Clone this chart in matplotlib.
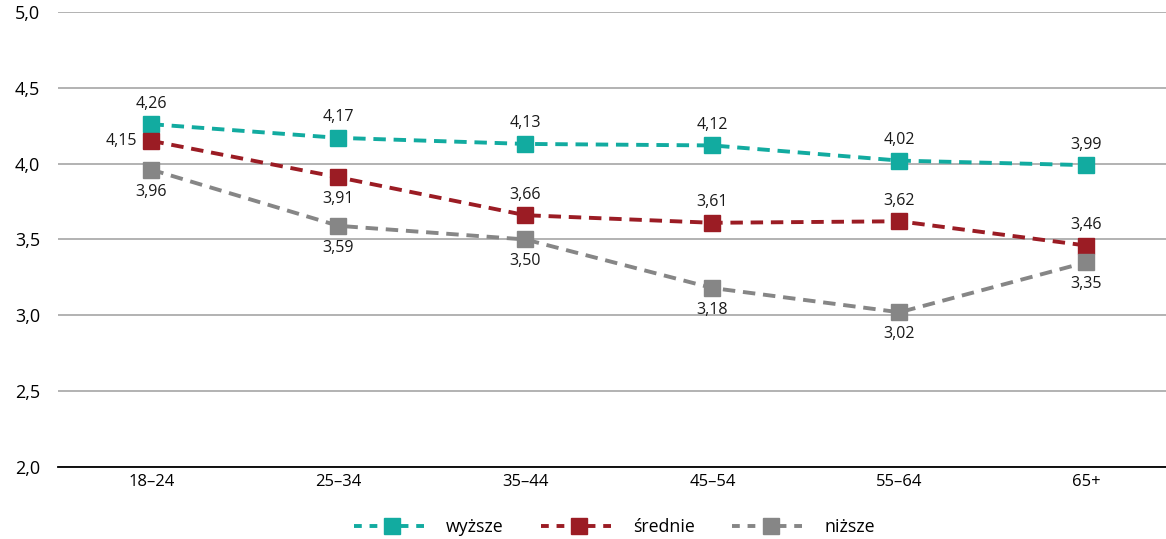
import numpy as np
import matplotlib.pyplot as plt
from matplotlib.lines import Line2D

plt.rcParams['font.family'] = ['Open Sans', 'DejaVu Sans']

groups = ['18–24', '25–34', '35–44', '45–54', '55–64', '65+']
wyzsze = [4.26, 4.17, 4.13, 4.12, 4.02, 3.99]
srednie = [4.15, 3.91, 3.66, 3.61, 3.62, 3.46]
nizsze = [3.96, 3.59, 3.50, 3.18, 3.02, 3.35]
yticks = [2.0, 2.5, 3.0, 3.5, 4.0, 4.5, 5.0]

series = [
    ('wyższe', wyzsze, '#12ABA0', ['up'] * 6),
    ('średnie', srednie, '#9B1C24', ['left', 'down', 'up', 'up', 'up', 'up']),
    ('niższe', nizsze, '#868686', ['down'] * 6),
]
offsets = {'up': (0, 9, 'center', 'bottom'),
           'down': (0, -10, 'center', 'top'),
           'left': (-10, 0, 'right', 'center')}

fig = plt.figure(figsize=(11.66, 5.39), dpi=100)
ax = fig.add_axes([0.0497, 0.1336, 0.9503, 0.8442])

x = np.arange(len(groups))
handles = []
for name, vals, col, pos in series:
    ax.plot(x, vals, color=col, lw=2.8, ls=(0, (3.2, 2.0)), zorder=3)
    ax.plot(x, vals, ls='none', marker='s', ms=12, color=col, zorder=4)
    for xi, v, p in zip(x, vals, pos):
        dx, dy, ha, va = offsets[p]
        ax.annotate(f'{v:.2f}'.replace('.', ','), (xi, v), xytext=(dx, dy),
                    textcoords='offset points', ha=ha, va=va, fontsize=11.5,
                    color='#1a1a1a')
    handles.append(Line2D([], [], color=col, lw=2.8, ls=(0, (2.0, 2.0)),
                          marker='s', ms=11, label=name))

ax.set_xlim(-0.5, -0.5 + 1108 / 187)
ax.set_ylim(2.0, 5.0)
ax.set_yticks(yticks)
ax.set_yticklabels([f'{t:.1f}'.replace('.', ',') for t in yticks], fontsize=13)
ax.set_xticks(x)
ax.set_xticklabels(groups, fontsize=12)
ax.tick_params(length=0)
ax.tick_params(axis='x', pad=5)
ax.tick_params(axis='y', pad=13)
ax.grid(axis='y', color='#A6A6A6', lw=1.2)
ax.set_axisbelow(True)
for s in ['top', 'right', 'left']:
    ax.spines[s].set_visible(False)
ax.spines['bottom'].set_color('black')
ax.spines['bottom'].set_linewidth(1.3)
ax.spines['bottom'].set_zorder(5)

fig.legend(handles=handles, loc='lower center', bbox_to_anchor=(0.527, -0.025),
           ncol=3, frameon=False, fontsize=12.8, handlelength=4.3,
           columnspacing=2.1, handletextpad=0.9)

fig.savefig('out.png', dpi=100)
